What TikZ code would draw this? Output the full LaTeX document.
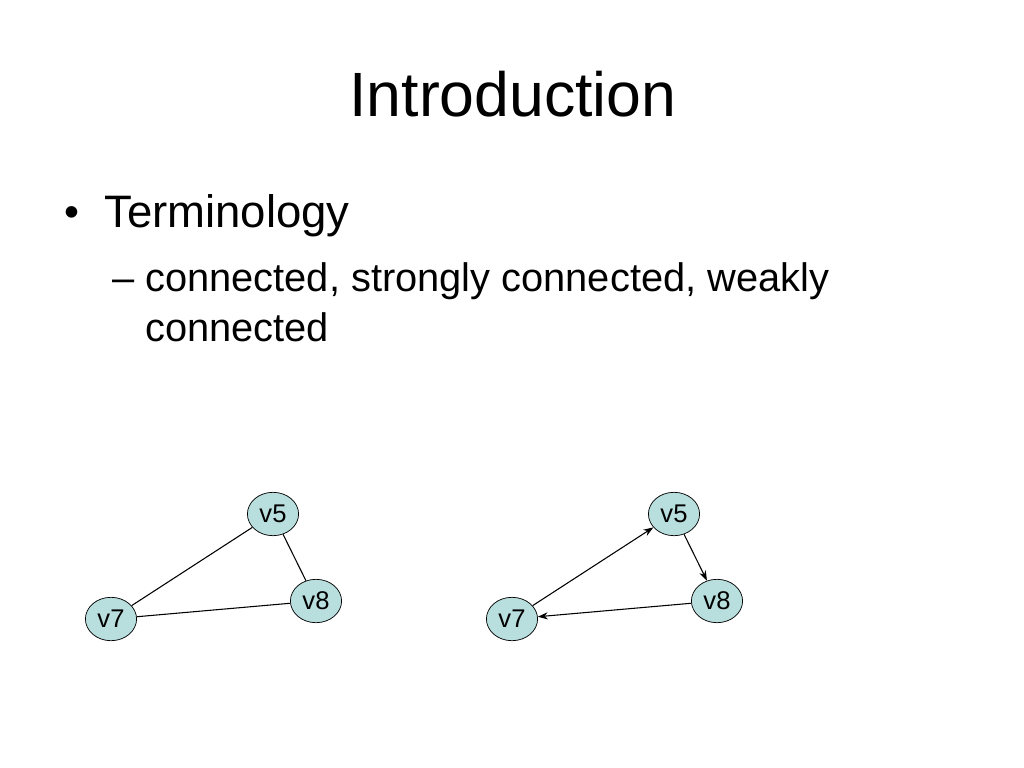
\documentclass[tikz,border=0pt]{standalone}
\usepackage{fontspec}
\setmainfont{Liberation Sans}
\usetikzlibrary{arrows.meta, shapes.geometric}

\begin{document}
\begin{tikzpicture}[x=0.703125pt, y=-0.703125pt]
			\tikzset{sommet/.style={ellipse, draw=black, fill={rgb,255:red,185;green,222;blue,222}, line width=0.5pt, inner sep=0pt, minimum width=36pt, minimum height=30.5pt, font=\fontsize{18}{20}\selectfont}, arete/.style={line width=0.75pt}, arc/.style={line width=0.75pt, -{Stealth[length=7pt, width=5pt]}}};

			\useasboundingbox (0,0) rectangle (1024,768);

			\node[anchor=base] (titre) at (513,117) {\fontsize{44}{50}\selectfont Introduction};
			\node[anchor=base west, inner sep=0pt] (puce1) at (64,227) {\fontsize{30}{34}\selectfont •};
			\node[anchor=base west, inner sep=0pt] (terme) at (104,228) {\fontsize{32}{38}\selectfont Terminology};
			\node[anchor=base west, inner sep=0pt] (puce2) at (112,292) {\fontsize{28}{34}\selectfont –};
			\node[anchor=base west, inner sep=0pt] (ligne1) at (145,292) {\fontsize{28}{34}\selectfont connected, strongly connected, weakly};
			\node[anchor=base west, inner sep=0pt] (ligne2) at (145,342) {\fontsize{28}{34}\selectfont connected};

			\node[sommet] (v5g) at (273,514) {v5};
			\node[sommet] (v8g) at (316,601) {v8};
			\node[sommet] (v7g) at (111,619) {v7};

			\node[sommet] (v5d) at (674,514) {v5};
			\node[sommet] (v8d) at (717,601) {v8};
			\node[sommet] (v7d) at (512,619) {v7};

			\draw[arete] (v7g) to (v5g);
			\draw[arete] (v5g) to (v8g);
			\draw[arete] (v8g) to (v7g);

			\draw[arc] (v7d) to (v5d);
			\draw[arc] (v5d) to (v8d);
			\draw[arc] (v8d) to (v7d);

\end{tikzpicture}
\end{document}
